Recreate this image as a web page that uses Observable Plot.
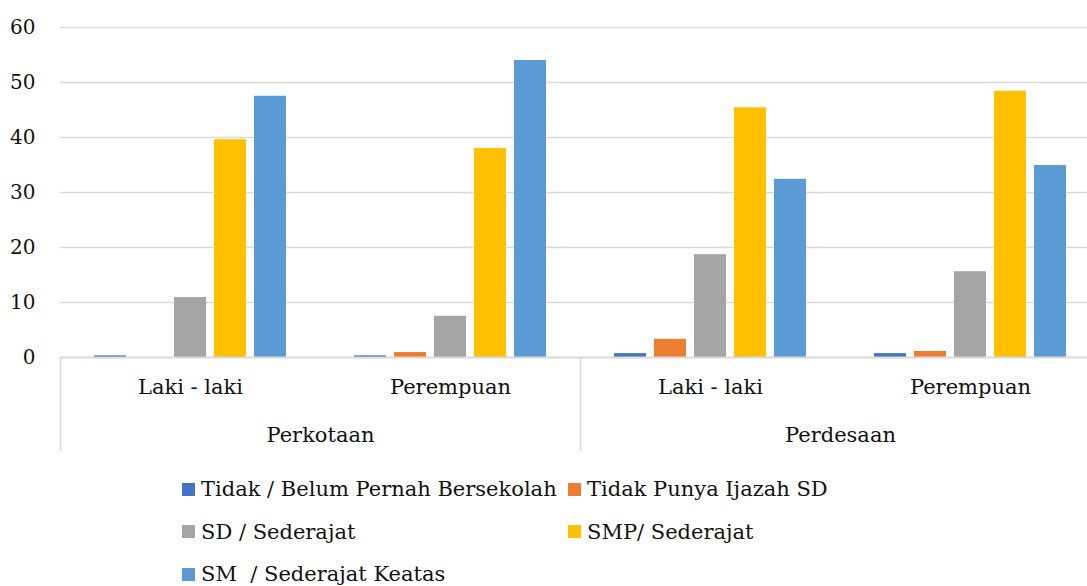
<!DOCTYPE html>
<html>
<head>
<meta charset="utf-8">
<script src="https://cdn.jsdelivr.net/npm/d3@7"></script>
<script src="https://cdn.jsdelivr.net/npm/@observablehq/plot@0.6"></script>
<style>
  html, body { margin: 0; padding: 0; background: #fff; overflow: hidden; }
  #chart { width: 1087px; overflow: hidden; font-family: "DejaVu Serif", serif; color: #000; }
  #chart svg { display: block; max-width: none !important; width: 1100px !important; height: 465px !important; }
  .legend { display: grid; grid-template-columns: 386px 386px; padding-left: 182px; margin-top: 3px; font-size: 21px; color: #111; }
  .legend .item { height: 42.5px; line-height: 42.5px; white-space: pre; display: flex; align-items: center; }
  .legend .sw { width: 13px; height: 13px; margin-right: 6px; flex: none; }
</style>
</head>
<body>
<div id="chart"></div>
<script>
const regions = ["Perkotaan", "Perkotaan", "Perdesaan", "Perdesaan"];
const genders = ["Laki - laki", "Perempuan", "Laki - laki", "Perempuan"];
const series = [
  "Tidak / Belum Pernah Bersekolah",
  "Tidak Punya Ijazah SD",
  "SD / Sederajat",
  "SMP/ Sederajat",
  "SM  / Sederajat Keatas"
];
const colors = ["#4472C4", "#ED7D31", "#A5A5A5", "#FFC000", "#5B9BD5"];
const tidakBelum = [0.3, 0.3, 0.7, 0.7];
const tidakPunya = [0, 0.9, 3.3, 1.1];
const sdSederajat = [10.9, 7.5, 18.7, 15.6];
const smpSederajat = [39.6, 38.0, 45.4, 48.4];
const smKeatas = [47.5, 54.0, 32.4, 34.9];
const yTicks = [0, 10, 20, 30, 40, 50, 60];

const seriesValues = [tidakBelum, tidakPunya, sdSederajat, smpSederajat, smKeatas];
const groupKeys = regions.map((r, i) => r + "|" + genders[i]);
const data = [];
groupKeys.forEach((k, gi) => {
  series.forEach((s, si) => {
    data.push({key: k, series: s, value: seriesValues[si][gi]});
  });
});
const regionNames = [...new Set(regions)];
const regionData = regionNames.map(r => ({region: r, first: groupKeys[regions.indexOf(r)]}));

const marks = [
  Plot.gridY({ticks: yTicks.filter(t => t > 0), stroke: "#d9d9d9", strokeOpacity: 1, strokeWidth: 1.5}),
  Plot.axisY({ticks: yTicks, tickSize: 0, tickPadding: 25, fontSize: 20, fill: "#111", label: null}),
  Plot.barY(data, {fx: "key", x: "series", y: "value", fill: "series"}),
  Plot.ruleY([0], {stroke: "#d9d9d9", strokeWidth: 2}),
  Plot.axisFx({anchor: "bottom", tickSize: 0, tickPadding: 22, fontSize: 21, fill: "#111", tickFormat: k => k.split("|")[1], label: null}),
  Plot.text(regionData, {fx: "first", text: "region", frameAnchor: "bottom-right", textAnchor: "middle", lineAnchor: "middle", dy: 78, fontSize: 21, fill: "#111"})
];
regionData.forEach(d => {
  marks.push(Plot.frame({fx: [d.first], anchor: "left", stroke: "#d9d9d9", strokeWidth: 1.5, insetTop: 330, insetBottom: -93}));
});

const svg = Plot.plot({
  width: 1100,
  height: 465,
  marginLeft: 60,
  marginRight: 0,
  marginTop: 27,
  marginBottom: 108,
  style: {fontFamily: "DejaVu Serif", fontSize: "20px", color: "#111", background: "#fff", maxWidth: "none"},
  fx: {domain: groupKeys, paddingInner: 0, paddingOuter: 0, round: false, axis: null, label: null},
  x: {domain: series, paddingInner: 0.2, paddingOuter: 0.85, round: false, axis: null},
  y: {domain: [0, 60], axis: null},
  color: {domain: series, range: colors},
  marks
});
document.getElementById("chart").appendChild(svg);

const legend = document.createElement("div");
legend.className = "legend";
series.forEach((s, i) => {
  const item = document.createElement("div");
  item.className = "item";
  const sw = document.createElement("span");
  sw.className = "sw";
  sw.style.background = colors[i];
  const t = document.createElement("span");
  t.textContent = s;
  item.appendChild(sw);
  item.appendChild(t);
  legend.appendChild(item);
});
document.getElementById("chart").appendChild(legend);
</script>
</body>
</html>
